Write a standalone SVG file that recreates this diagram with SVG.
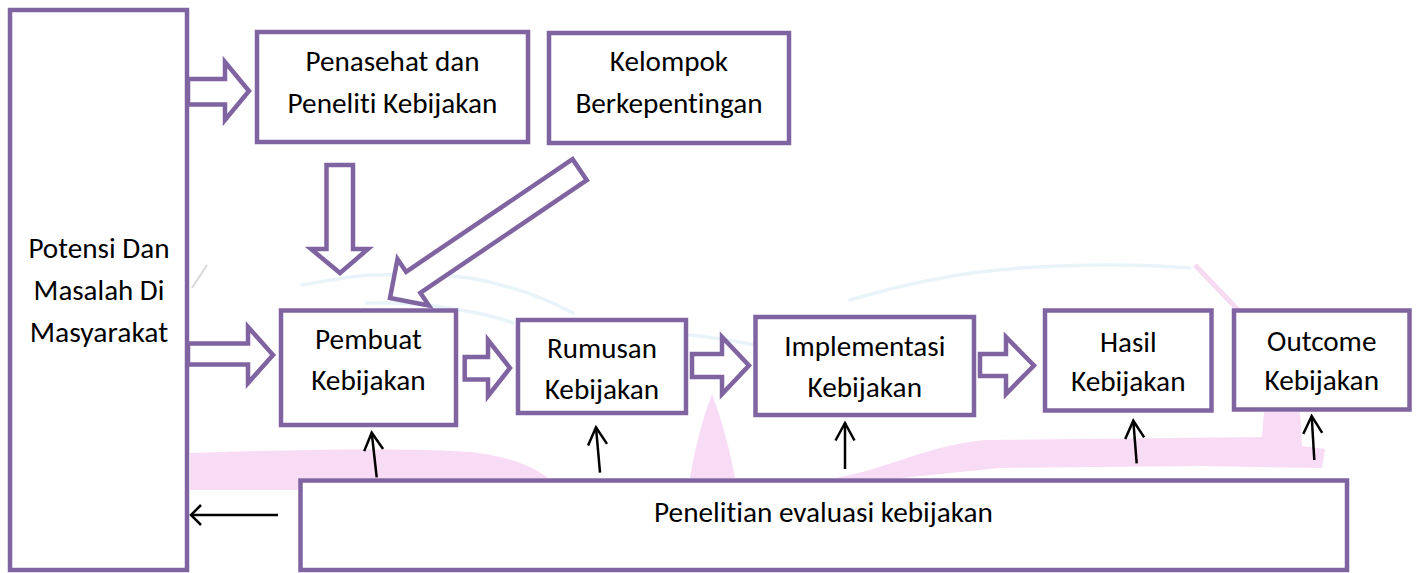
<svg xmlns="http://www.w3.org/2000/svg" width="1416" height="573" viewBox="0 0 1416 573">
  <style>
    .box { fill: #ffffff; stroke: #8064a2; stroke-width: 4.5; }
    .blk { fill: #ffffff; stroke: #8064a2; stroke-width: 4.5; stroke-linejoin: miter; }
    .lbl { font-family: Carlito, Lato, "Liberation Sans", sans-serif; font-size: 28px; fill: #000000; font-variant-ligatures: none; }
    .thin { fill: none; stroke: #000000; stroke-width: 2.5; }
    .pink { fill: #f5c8ef; opacity: 0.65; }
    .teal { fill: none; stroke: #d6ebf6; stroke-width: 3.5; opacity: 0.55; stroke-linecap: round; }
  </style>
  <defs>
    <marker id="headUp" markerUnits="userSpaceOnUse" orient="auto" refX="0" refY="0" markerWidth="30" markerHeight="30" overflow="visible">
      <path d="M-17.5,-9.5 L0,0 L-17.5,9.5" fill="none" stroke="#000000" stroke-width="2.5"/>
    </marker>
    <marker id="headLeft" markerUnits="userSpaceOnUse" orient="auto" refX="0" refY="0" markerWidth="30" markerHeight="30" overflow="visible">
      <path d="M-10,-10 L0,0 L-10,10" fill="none" stroke="#000000" stroke-width="2.5"/>
    </marker>
  </defs>
  <rect x="0" y="0" width="1416" height="573" fill="#ffffff"/>

  <g id="watermark">
    <path class="pink" d="M190,453 C300,449 420,448 470,452 C510,456 535,468 548,478 L300,478 L300,490 L190,490 Z"/>
    <path class="pink" d="M712,394 C718,410 728,440 735,478 L690,478 C696,440 706,410 712,394 Z"/>
    <path class="pink" d="M835,478 C885,470 925,446 985,440 L1262,437 L1264,412 L1300,412 L1302,446 L1325,449 L1322,468 L1200,466 L1000,468 L900,478 Z"/>
    <path d="M1195,265 L1240,312" stroke="#efc2e8" stroke-width="5" fill="none" opacity="0.6"/>
    <path class="teal" d="M302,285 C330,280 350,276 373,275 C410,274 440,274 470,278 C510,285 545,298 573,313"/>
    <path class="teal" d="M367,303 C400,302 430,304 460,310 C485,314 500,318 513,323"/>
    <path class="teal" d="M850,300 C900,285 960,272 1020,268 C1080,264 1140,264 1190,268"/>
    <path class="teal" d="M690,335 C720,338 740,342 755,345"/>
    <path d="M207,265 L192,288" stroke="#c8c8c8" stroke-width="2" fill="none" opacity="0.7"/>
  </g>

  <g id="node-potensi">
    <rect class="box" x="10" y="10" width="177" height="560"/>
    <text class="lbl" x="28.4" y="258" textLength="141.1" lengthAdjust="spacingAndGlyphs">Potensi Dan</text>
    <text class="lbl" x="33.6" y="300" textLength="130.7" lengthAdjust="spacingAndGlyphs">Masalah Di</text>
    <text class="lbl" x="29.8" y="342" textLength="138.4" lengthAdjust="spacingAndGlyphs">Masyarakat</text>
  </g>

  <g id="node-penasehat">
    <rect class="box" x="257" y="32" width="271" height="110"/>
    <text class="lbl" x="305.5" y="71" textLength="174" lengthAdjust="spacingAndGlyphs">Penasehat dan</text>
    <text class="lbl" x="287.6" y="113" textLength="209.8" lengthAdjust="spacingAndGlyphs">Peneliti Kebijakan</text>
  </g>

  <g id="node-kelompok">
    <rect class="box" x="549" y="33" width="240" height="110"/>
    <text class="lbl" x="609.8" y="71" textLength="118.3" lengthAdjust="spacingAndGlyphs">Kelompok</text>
    <text class="lbl" x="575.4" y="113" textLength="187.2" lengthAdjust="spacingAndGlyphs">Berkepentingan</text>
  </g>

  <g id="node-pembuat">
    <rect class="box" x="281" y="310.5" width="175" height="114.5"/>
    <text class="lbl" x="315.1" y="349" textLength="106.7" lengthAdjust="spacingAndGlyphs">Pembuat</text>
    <text class="lbl" x="311.2" y="390" textLength="114.5" lengthAdjust="spacingAndGlyphs">Kebijakan</text>
  </g>

  <g id="node-rumusan">
    <rect class="box" x="518" y="320" width="168" height="93"/>
    <text class="lbl" x="547.1" y="358" textLength="109.8" lengthAdjust="spacingAndGlyphs">Rumusan</text>
    <text class="lbl" x="544.7" y="399" textLength="114.5" lengthAdjust="spacingAndGlyphs">Kebijakan</text>
  </g>

  <g id="node-implementasi">
    <rect class="box" x="755.5" y="317" width="218.5" height="98"/>
    <text class="lbl" x="784.2" y="356" textLength="161.2" lengthAdjust="spacingAndGlyphs">Implementasi</text>
    <text class="lbl" x="807.5" y="397" textLength="114.5" lengthAdjust="spacingAndGlyphs">Kebijakan</text>
  </g>

  <g id="node-hasil">
    <rect class="box" x="1045" y="310.5" width="166.5" height="100"/>
    <text class="lbl" x="1100" y="352" textLength="56.6" lengthAdjust="spacingAndGlyphs">Hasil</text>
    <text class="lbl" x="1071" y="391" textLength="114.5" lengthAdjust="spacingAndGlyphs">Kebijakan</text>
  </g>

  <g id="node-outcome">
    <rect class="box" x="1234" y="310.5" width="175.5" height="99"/>
    <text class="lbl" x="1267.1" y="351" textLength="109.3" lengthAdjust="spacingAndGlyphs">Outcome</text>
    <text class="lbl" x="1264.5" y="390" textLength="114.5" lengthAdjust="spacingAndGlyphs">Kebijakan</text>
  </g>

  <g id="node-penelitian">
    <rect class="box" x="300.5" y="480.5" width="1046.5" height="89.5"/>
    <text class="lbl" x="654.1" y="522" textLength="338.8" lengthAdjust="spacingAndGlyphs">Penelitian evaluasi kebijakan</text>
  </g>

  <g id="connectors">
    <polygon class="blk" points="188,79 225,79 225,62 249,91 225,120 225,104.5 188,104.5"/>
    <polygon class="blk" points="188,343.5 248,343.5 248,327 273,355 248,383 248,364.5 188,364.5"/>
    <polygon class="blk" points="464.7,357 488,357 488,340 510,368 488,396 488,379.5 464.7,379.5"/>
    <polygon class="blk" points="692,354 722,354 722,337 749,365.5 722,394 722,377 692,377"/>
    <polygon class="blk" points="980,354 1006,354 1006,337 1034,365.5 1006,394 1006,376 980,376"/>
    <polygon class="blk" points="326.5,165 353,165 353,249 368,249 340,273 311,249 326.5,249"/>
    <polygon class="blk" points="390,298 428.9,305.5 420.3,292.8 586.8,180.2 572.6,159.2 406.1,271.8 397.5,259.1"/>

    <line class="thin" x1="278" y1="515" x2="191" y2="515" marker-end="url(#headLeft)"/>
    <line class="thin" x1="376.7" y1="477.3" x2="371.7" y2="432.7" marker-end="url(#headUp)"/>
    <line class="thin" x1="600" y1="472.7" x2="596" y2="427.3" marker-end="url(#headUp)"/>
    <line class="thin" x1="845" y1="469" x2="845" y2="423" marker-end="url(#headUp)"/>
    <line class="thin" x1="1136.7" y1="463.3" x2="1133.3" y2="420.7" marker-end="url(#headUp)"/>
    <line class="thin" x1="1314.3" y1="460" x2="1311.7" y2="416" marker-end="url(#headUp)"/>
  </g>
</svg>
